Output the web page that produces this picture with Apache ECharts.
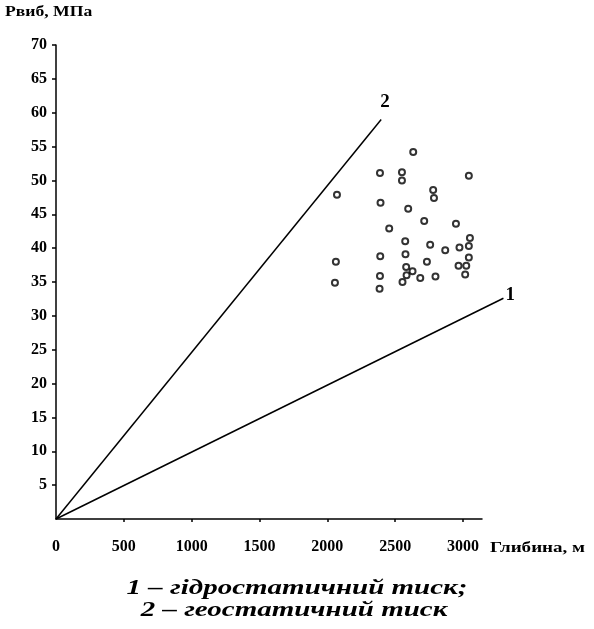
<!DOCTYPE html>
<html>
<head>
<meta charset="utf-8">
<script src="https://cdn.jsdelivr.net/npm/echarts@6/dist/echarts.min.js"></script>
<style>
html,body{margin:0;padding:0;background:#fff;}
#c{width:594px;height:629px;}
</style>
</head>
<body>
<div id="c"></div>
<script>
// Measured points: [depth m, pressure MPa]
const scatterPoints = [
  [2633,54.2],[2388,51.1],[2550,51.2],[2550,50.0],[3043,50.7],[2071,47.9],
  [2780,48.6],[2786,47.4],[2392,46.7],[2596,45.8],[2714,44.0],[2948,43.6],
  [2456,42.9],[3051,41.5],[2574,41.0],[2758,40.5],[2869,39.7],[2974,40.1],
  [3043,40.3],[3043,38.6],[2063,38.0],[2390,38.8],[2576,39.1],[2734,38.0],
  [2581,37.2],[2628,36.6],[2967,37.4],[3024,37.4],[2056,34.9],[2388,35.9],
  [2584,36.0],[2685,35.6],[2797,35.8],[3016,36.1],[2385,34.0],[2554,35.0]
];
const hydrostaticLine = [[0,0],[3298,32.6]];
const geostaticLine = [[0,0],[2397,59.0]];
const xLabelValues = [0,500,1000,1500,2000,2500,3000];
const xTickValues = [500,1000,1500,2000,2500,3000];
const yAxisName = 'Рвиб, МПа';
const xAxisName = 'Глибина, м';
const caption1 = '1 – гідростатичний тиск;';
const caption2 = '2 – геостатичний тиск';

const serif = '"Liberation Serif", "DejaVu Serif", serif';
const X_MAX = 3140;           // end of drawn depth axis
const GRID_LEFT = 56, GRID_RIGHT = 112, W = 594;
const pxPerM = (W - GRID_LEFT - GRID_RIGHT) / X_MAX;
const GRID2_RIGHT = 60;
const X2_MAX = (W - GRID_LEFT - GRID2_RIGHT) / pxPerM; // same scale, wider area for the pressure lines

const chart = echarts.init(document.getElementById('c'));
chart.setOption({
  animation:false,
  backgroundColor:'#fff',
  grid:[
    {left:GRID_LEFT,top:45,right:GRID_RIGHT,bottom:110,containLabel:false},
    {left:GRID_LEFT,top:45,right:GRID2_RIGHT,bottom:110,containLabel:false}
  ],
  xAxis:[{
    type:'value', min:0, max:X_MAX, gridIndex:0,
    axisLine:{show:true, lineStyle:{color:'#000', width:1.5}},
    axisTick:{show:true, customValues:xTickValues, length:3, inside:false, lineStyle:{color:'#000', width:1.5}},
    axisLabel:{customValues:xLabelValues, formatter:v=>String(v), color:'#000', fontFamily:serif, fontWeight:'bold', fontSize:16, margin:20},
    splitLine:{show:false}
  },{
    type:'value', min:0, max:X2_MAX, gridIndex:1, show:false, splitLine:{show:false}
  }],
  yAxis:[{
    type:'value', min:0, max:70, interval:5, gridIndex:0,
    axisLine:{show:true, lineStyle:{color:'#000', width:1.5}},
    axisTick:{show:true, length:4, lineStyle:{color:'#000', width:1.5}},
    axisLabel:{showMinLabel:false, color:'#000', fontFamily:serif, fontWeight:'bold', fontSize:16, margin:9},
    splitLine:{show:false}
  },{
    type:'value', min:0, max:70, gridIndex:1, show:false, splitLine:{show:false}
  }],
  series:[
    {
      type:'line', data:hydrostaticLine, symbol:'none', xAxisIndex:1, yAxisIndex:1,
      lineStyle:{color:'#000', width:1.5},
      endLabel:{show:true, formatter:'1', color:'#000', fontFamily:serif, fontWeight:'bold', fontSize:19, distance:2, offset:[0,-3]}
    },
    {
      type:'line', data:geostaticLine, symbol:'none', xAxisIndex:1, yAxisIndex:1,
      lineStyle:{color:'#000', width:1.5},
      endLabel:{show:true, formatter:'2', color:'#000', fontFamily:serif, fontWeight:'bold', fontSize:19, distance:0, offset:[-1,-17]}
    },
    {
      type:'scatter', data:scatterPoints, symbol:'circle', symbolSize:6,
      itemStyle:{color:'#fff', borderColor:'#000', borderWidth:2}
    }
  ],
  graphic:[
    {type:'text', x:5, y:5, scaleX:1.26, style:{text:yAxisName, fill:'#000', font:'bold 14px '+serif}},
    {type:'text', x:490, y:541, scaleX:1.36, style:{text:xAxisName, fill:'#000', font:'bold 14px '+serif}},
    {type:'text', x:297, y:578, scaleX:1.38, style:{text:caption1, fill:'#000', font:'italic bold 21px '+serif, textAlign:'center'}},
    {type:'text', x:294, y:600, scaleX:1.38, style:{text:caption2, fill:'#000', font:'italic bold 21px '+serif, textAlign:'center'}}
  ]
});
</script>
</body>
</html>
